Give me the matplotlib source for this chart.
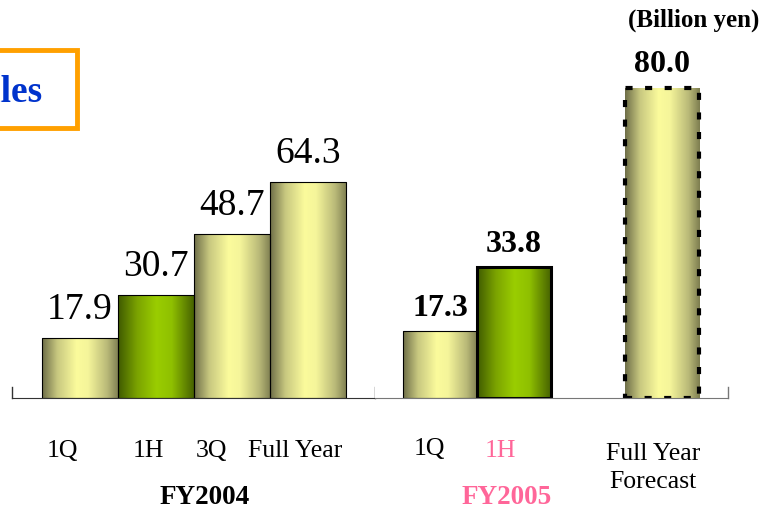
import numpy as np
import matplotlib
matplotlib.use("Agg")
from matplotlib import pyplot as plt
from matplotlib.colors import LinearSegmentedColormap
from matplotlib.patches import Rectangle

# data
fy04_labels = ['1Q', '1H', '3Q', 'Full Year']
fy04_values = [17.9, 30.7, 48.7, 64.3]
fy05_labels = ['1Q', '1H', 'Full Year\nForecast']
fy05_values = [17.3, 33.8, 80.0]
fy05_pos = [0, 1, 3]

plt.rcParams['font.family'] = ['Liberation Serif', 'DejaVu Serif']

W, H = 765, 511
fig = plt.figure(figsize=(W / 100, H / 100), dpi=100)

yellow = LinearSegmentedColormap.from_list('yel', [
    (0, '#6e6e48'), (0.2, '#c8c880'), (0.45, '#fbfb9c'), (0.6, '#f5f59a'),
    (0.85, '#b9b978'), (1, '#7d7d50')])
green = LinearSegmentedColormap.from_list('grn', [
    (0, '#3f5a00'), (0.25, '#7ba300'), (0.5, '#9acd00'), (0.7, '#8fc000'),
    (0.9, '#5d7f00'), (1, '#445f00')])
grad = np.linspace(0, 1, 256).reshape(1, -1)


def px_axes(x0, x1, top, bottom):
    return fig.add_axes([x0 / W, 1 - bottom / H, (x1 - x0) / W, (bottom - top) / H])


def fill_bars(ax, bars, cmaps):
    for b, cm in zip(bars, cmaps):
        x, w, h = b.get_x(), b.get_width(), b.get_height()
        im = ax.imshow(grad, cmap=cm, extent=(x, x + w, 0, h), aspect='auto',
                       interpolation='bilinear', zorder=1)
        im.set_clip_path(b)


def base_axis(ax, ticks, col):
    for s in ['left', 'right', 'top']:
        ax.spines[s].set_visible(False)
    ax.spines['bottom'].set_color(col)
    ax.set_xticks([])
    ax.set_yticks([])
    for t in ticks:
        ax.plot([t, t], [0, 0.03], transform=ax.transAxes, color=col,
                lw=1, clip_on=False)


# FY2004 axes
ax1 = px_axes(12, 375, 40, 398)
ax1.set_xlim(-0.895, 3.88)
ax1.set_ylim(0, 358 / 3.36)
base_axis(ax1, [0, 1], '#333333')
b1 = ax1.bar(range(4), fy04_values, width=1.0, facecolor='none',
             edgecolor='black', lw=0.8, zorder=2)
fill_bars(ax1, b1, [yellow, green, yellow, yellow])
for b, v in zip(b1, fy04_values):
    ax1.annotate(f'{v:.1f}', (b.get_x() + b.get_width() / 2, v),
                 xytext=(0, 8), textcoords='offset points',
                 ha='center', va='bottom', fontsize=27)

# FY2005 axes
ax2 = px_axes(375, 728, 40, 398)
ax2.set_xlim(-0.878, 3.89)
ax2.set_ylim(0, 358 / 3.88)
base_axis(ax2, [1], '#777777')
b2 = ax2.bar(fy05_pos, fy05_values, width=1.0, facecolor='none',
             edgecolor='black', zorder=2)
b2[0].set_linewidth(0.8)
b2[1].set_linewidth(2.2)
b2[2].set_linewidth(3)
b2[2].set_linestyle((0, (1.7, 3.0)))
fill_bars(ax2, b2, [yellow, green, yellow])
for b, v in zip(b2, fy05_values):
    ax2.annotate(f'{v:.1f}', (b.get_x() + b.get_width() / 2, v),
                 xytext=(0, 6), textcoords='offset points',
                 ha='center', va='bottom', fontsize=23, fontweight='bold')


def ftext(x, y, s, **kw):
    fig.text(x / W, 1 - y / H, s, **kw)


# category labels
for x, s in zip([62, 148, 211, 295], fy04_labels):
    ftext(x, 451, s, ha='center', va='center', fontsize=18.5)
ftext(429, 449, fy05_labels[0], ha='center', va='center', fontsize=18.5)
ftext(500, 451, fy05_labels[1], ha='center', va='center', fontsize=18.5, color='#ff6699')
ftext(653, 468, fy05_labels[2], ha='center', va='center', fontsize=18.5,
      linespacing=1.35)
ftext(205, 497, 'FY2004', ha='center', va='center', fontsize=19.5, fontweight='bold')
ftext(507, 497, 'FY2005', ha='center', va='center', fontsize=19.5, fontweight='bold',
      color='#ff6699')
ftext(759, 20, '(Billion yen)', ha='right', va='center', fontsize=18, fontweight='bold')

# title box (cut off on the left, as in the reference)
fig.patches.append(Rectangle((-20 / W, 1 - 128 / H), 97 / W, 78 / H,
                             transform=fig.transFigure, facecolor='white',
                             edgecolor='#ffa000', lw=3.5))
ftext(42, 93, 'Sales', ha='right', va='center', fontsize=27, fontweight='bold',
      color='#0033cc')

plt.savefig("out.png", dpi=100)
